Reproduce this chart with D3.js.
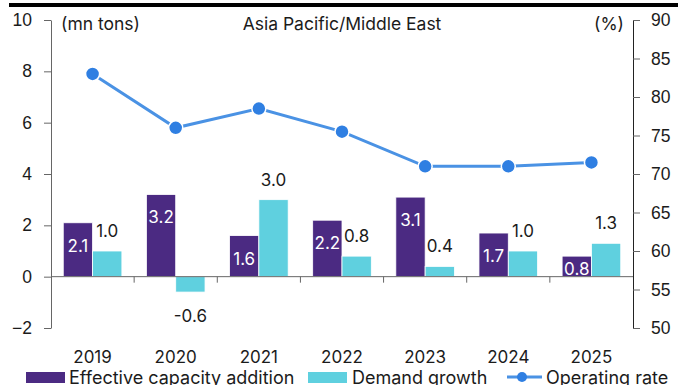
<!DOCTYPE html>
<html>
<head>
<meta charset="utf-8">
<script src="https://cdn.jsdelivr.net/npm/d3@7"></script>
<style>
  html, body { margin: 0; padding: 0; background: #fff; }
  svg { display: block; font-family: Inter, "Noto Sans", sans-serif; }
</style>
</head>
<body>
<svg id="chart" width="685" height="385"></svg>
<script>
// Chart data
const years = ["2019", "2020", "2021", "2022", "2023", "2024", "2025"];
const capacityAddition = [2.1, 3.2, 1.6, 2.2, 3.1, 1.7, 0.8];   // mn tons
const demandGrowth = [1.0, -0.6, 3.0, 0.8, 0.4, 1.0, 1.3];       // mn tons
const operatingRate = [83, 76, 78.5, 75.5, 71, 71, 71.5];        // %
const leftTicks = [-2, 0, 2, 4, 6, 8, 10];
const rightTicks = [50, 55, 60, 65, 70, 75, 80, 85, 90];

const PURPLE = "#4b2a82";
const CYAN = "#5fd0df";
const LINE = "#4a92e4";
const DOT = "#2f7fe2";
const INK = "#1b1b1b";

const svg = d3.select("#chart");
const plot = { left: 51, right: 633, top: 20, bottom: 328 };

const x = d3.scaleBand().domain(years).range([plot.left, plot.right]).padding(0);
const sub = d3.scaleBand().domain(["cap", "dem"]).range([0, x.bandwidth()])
  .paddingInner(0).paddingOuter(0.418);
const yL = d3.scaleLinear().domain([-2, 10]).range([plot.bottom, plot.top]);
const yR = d3.scaleLinear().domain([50, 90]).range([plot.bottom, plot.top]);

// Top rule
svg.append("rect").attr("x", 9).attr("y", 3).attr("width", 669).attr("height", 4).attr("fill", "#000");

// Bars
const rows = years.map((yr, i) => ({ yr, cap: capacityAddition[i], dem: demandGrowth[i], rate: operatingRate[i] }));
const g = svg.append("g");
g.selectAll("rect.cap").data(rows).join("rect").attr("class", "cap")
  .attr("x", d => x(d.yr) + sub("cap"))
  .attr("width", sub.bandwidth())
  .attr("y", d => yL(Math.max(0, d.cap)))
  .attr("height", d => Math.abs(yL(d.cap) - yL(0)))
  .attr("fill", PURPLE).attr("stroke", "#fff").attr("stroke-width", 0.8);
g.selectAll("rect.dem").data(rows).join("rect").attr("class", "dem")
  .attr("x", d => x(d.yr) + sub("dem"))
  .attr("width", sub.bandwidth())
  .attr("y", d => yL(Math.max(0, d.dem)))
  .attr("height", d => Math.abs(yL(d.dem) - yL(0)))
  .attr("fill", CYAN).attr("stroke", "#fff").attr("stroke-width", 0.8);

// Left axis
const axL = svg.append("g").attr("transform", `translate(${plot.left},0)`)
  .call(d3.axisLeft(yL).tickValues(leftTicks).tickSize(7).tickSizeOuter(0).tickPadding(12).tickFormat(d3.format("d")));
axL.select(".domain").attr("stroke", "#666");
axL.selectAll(".tick line").attr("stroke", "#666");
axL.selectAll("text").attr("font-size", 17.5).attr("fill", INK).attr("font-family", null);

// Right axis
const axR = svg.append("g").attr("transform", `translate(${plot.right},0)`)
  .call(d3.axisRight(yR).tickValues(rightTicks).tickSize(7).tickSizeOuter(0).tickPadding(11).tickFormat(d3.format("d")));
axR.select(".domain").attr("stroke", "#222");
axR.selectAll(".tick line").attr("stroke", "#666");
axR.selectAll("text").attr("font-size", 17.5).attr("fill", INK).attr("font-family", null);

// Category axis along zero
const y0 = yL(0);
svg.append("line").attr("x1", plot.left).attr("x2", plot.right).attr("y1", y0).attr("y2", y0)
  .attr("stroke", "#666").attr("stroke-width", 1);
svg.selectAll("line.xtick").data(years.slice(1)).join("line").attr("class", "xtick")
  .attr("x1", d => x(d)).attr("x2", d => x(d))
  .attr("y1", y0).attr("y2", y0 + 6).attr("stroke", "#666");
svg.selectAll("text.xlab").data(years).join("text").attr("class", "xlab")
  .attr("x", d => x(d) + x.bandwidth() / 2).attr("y", 363)
  .attr("text-anchor", "middle").attr("font-size", 17).attr("fill", INK)
  .text(d => d);

// Value labels
svg.selectAll("text.capLab").data(rows).join("text").attr("class", "capLab")
  .attr("x", d => x(d.yr) + sub("cap") + sub.bandwidth() / 2)
  .attr("y", d => Math.min(yL(d.cap) + 23, y0 - 8))
  .attr("dy", "0.35em").attr("text-anchor", "middle")
  .attr("font-size", 17).attr("fill", "#fff")
  .text(d => d.cap.toFixed(1));
svg.selectAll("text.demLab").data(rows).join("text").attr("class", "demLab")
  .attr("x", d => x(d.yr) + sub("dem") + sub.bandwidth() / 2)
  .attr("y", d => d.dem >= 0 ? yL(d.dem) - 20 : yL(d.dem) + 24)
  .attr("dy", "0.35em").attr("text-anchor", "middle")
  .attr("font-size", 17).attr("fill", INK)
  .text(d => d.dem.toFixed(1));

// Operating rate line
const cx = d => x(d.yr) + x.bandwidth() / 2;
svg.append("path").datum(rows)
  .attr("d", d3.line().x(cx).y(d => yR(d.rate)))
  .attr("fill", "none").attr("stroke", LINE).attr("stroke-width", 3);
svg.selectAll("circle.pt").data(rows).join("circle").attr("class", "pt")
  .attr("cx", cx).attr("cy", d => yR(d.rate)).attr("r", 7)
  .attr("fill", DOT).attr("stroke", "#fff").attr("stroke-width", 1.5);

// Titles
svg.append("text").attr("x", (plot.left + plot.right) / 2).attr("y", 30).attr("text-anchor", "middle")
  .attr("font-size", 17.5).attr("fill", INK).text("Asia Pacific/Middle East");
svg.append("text").attr("x", 61).attr("y", 30)
  .attr("font-size", 17.5).attr("fill", INK).text("(mn tons)");
svg.append("text").attr("x", 624).attr("y", 30).attr("text-anchor", "end")
  .attr("font-size", 17.5).attr("fill", INK).text("(%)");

// Legend
const lg = svg.append("g");
lg.append("rect").attr("x", 26).attr("y", 372).attr("width", 39).attr("height", 11).attr("fill", PURPLE);
lg.append("text").attr("x", 69).attr("y", 384).attr("font-size", 18).attr("fill", INK).text("Effective capacity addition");
lg.append("rect").attr("x", 308).attr("y", 372).attr("width", 39).attr("height", 11).attr("fill", CYAN);
lg.append("text").attr("x", 352).attr("y", 384).attr("font-size", 18).attr("fill", INK).text("Demand growth");
lg.append("line").attr("x1", 507).attr("x2", 542).attr("y1", 377).attr("y2", 377).attr("stroke", LINE).attr("stroke-width", 3);
lg.append("circle").attr("cx", 522).attr("cy", 377).attr("r", 5).attr("fill", DOT);
lg.append("text").attr("x", 546).attr("y", 384).attr("font-size", 18).attr("fill", INK).text("Operating rate");
</script>
</body>
</html>
